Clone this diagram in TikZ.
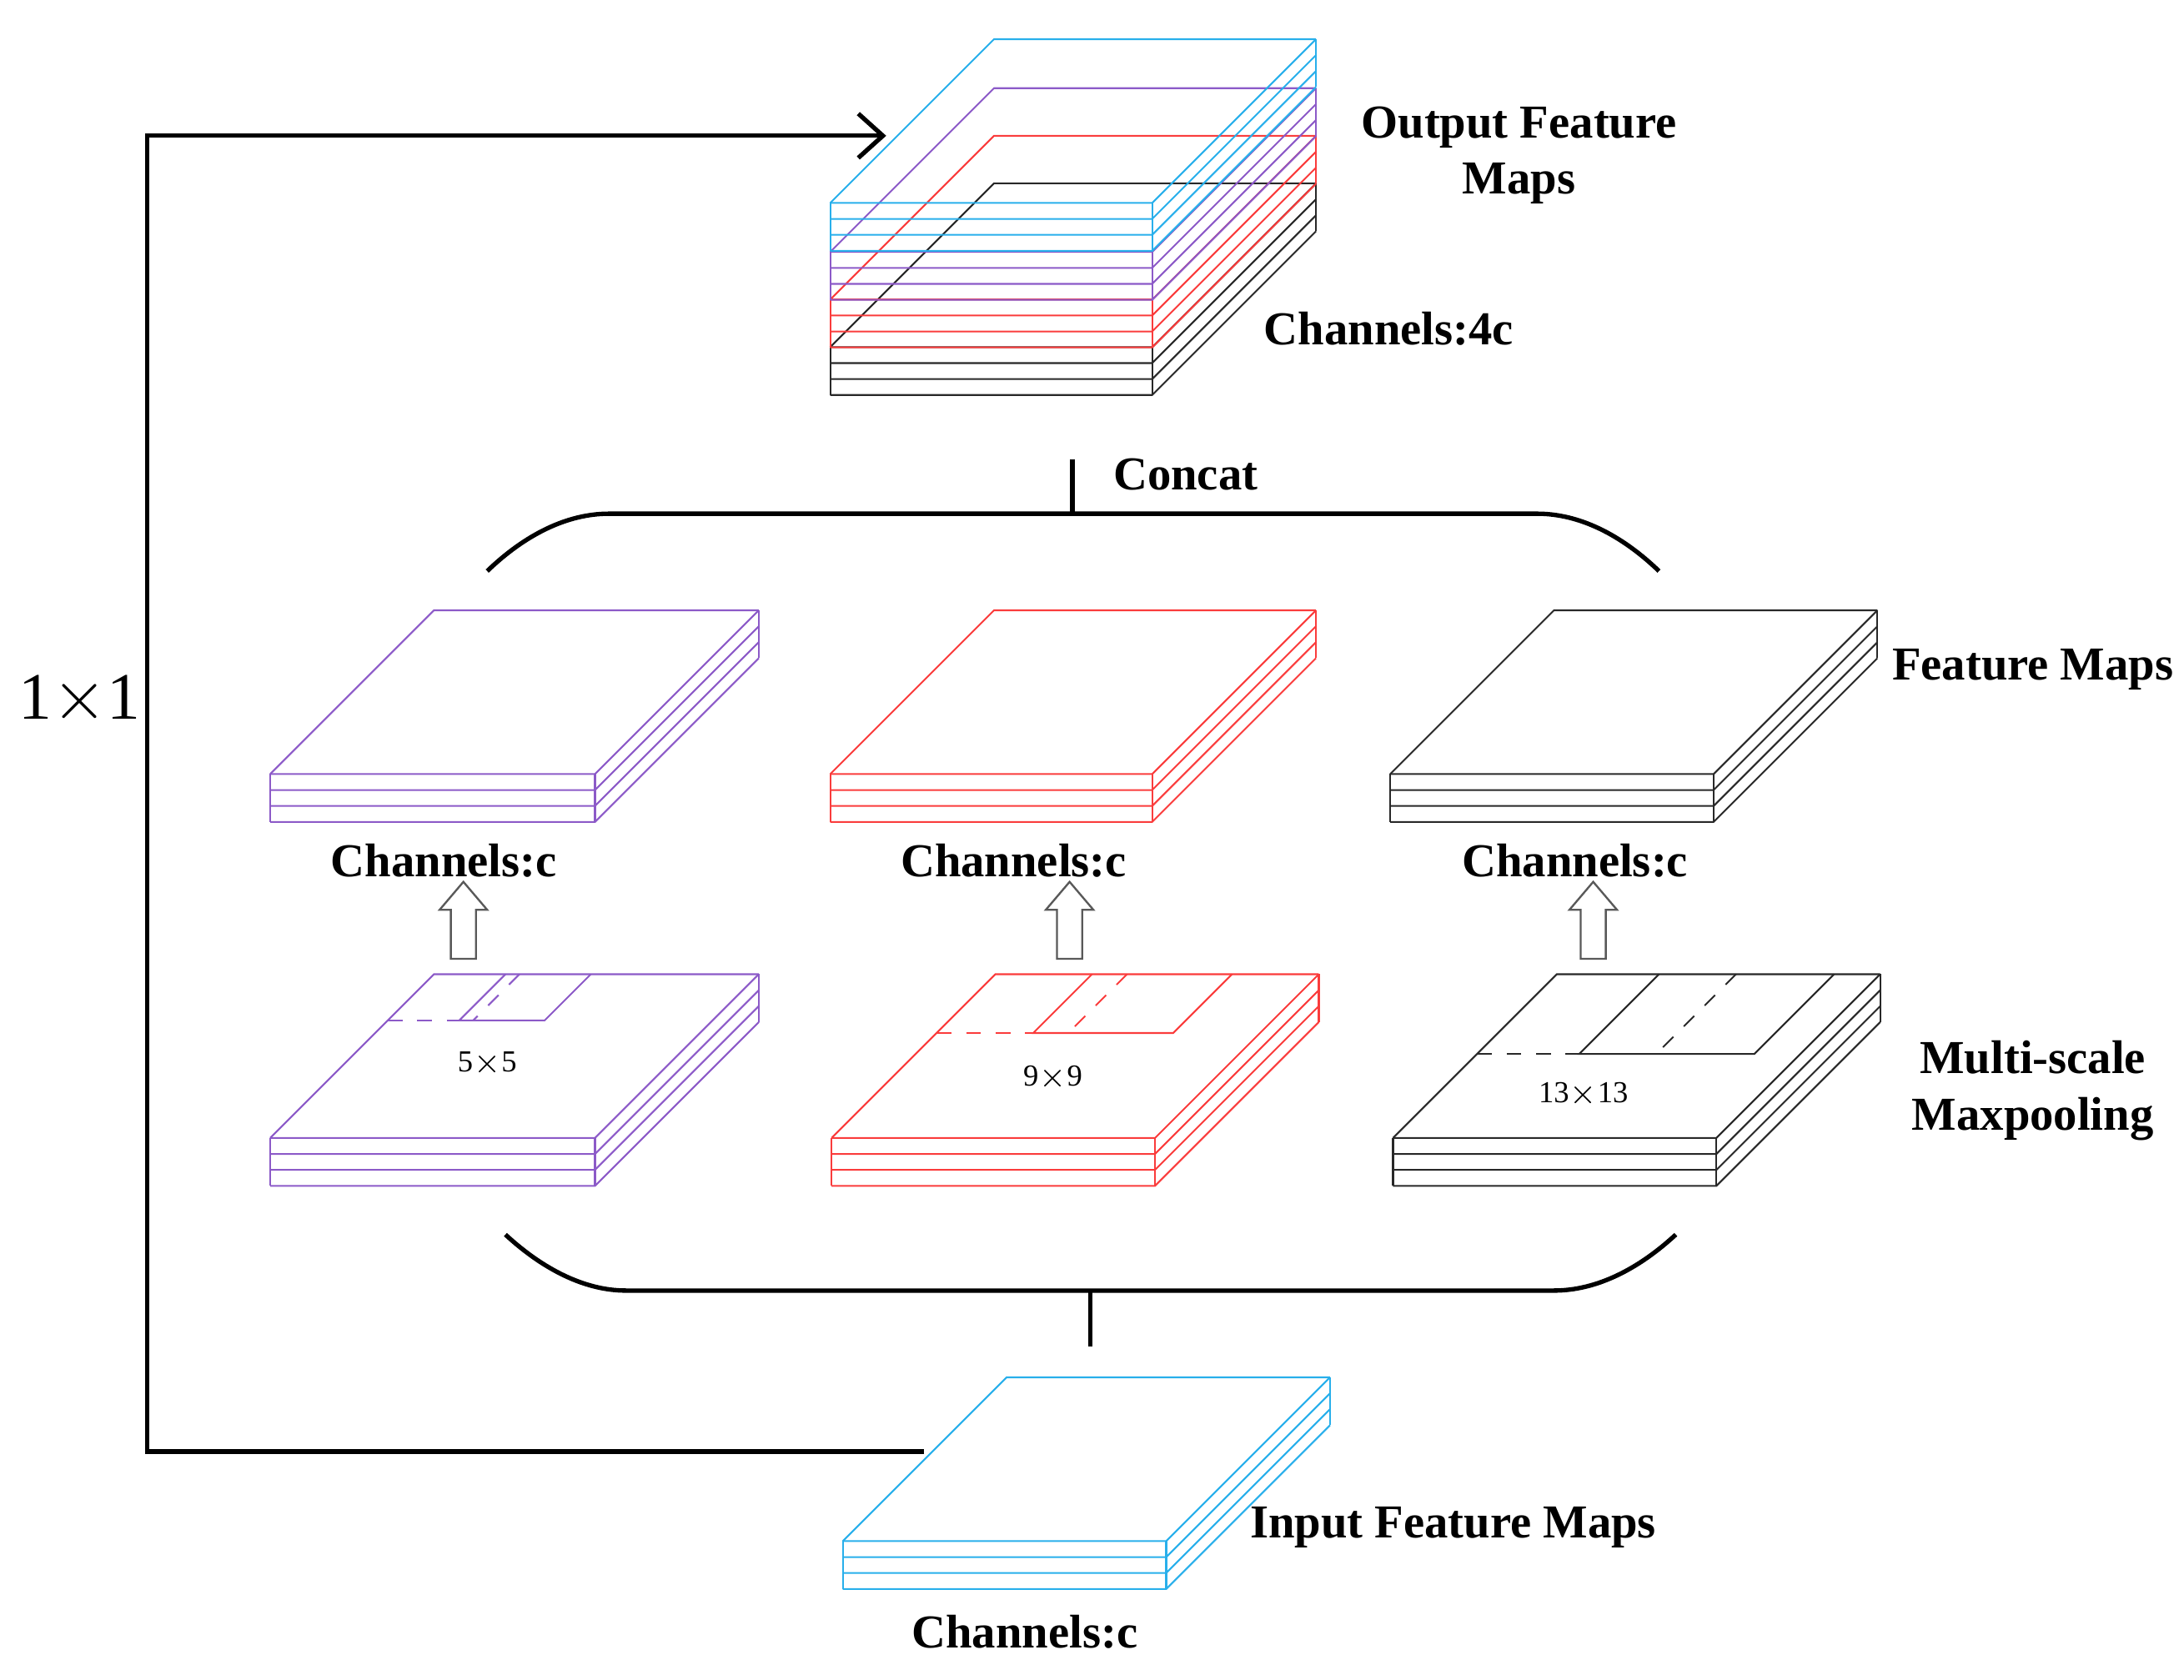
\documentclass[tikz,border=0pt]{standalone}
\usepackage{fontspec}
\setmainfont{Liberation Serif}
\usetikzlibrary{arrows.meta}
\begin{document}
\definecolor{cy}{RGB}{40,175,235}
\definecolor{pu}{RGB}{140,90,200}
\definecolor{rd}{RGB}{250,60,60}
\definecolor{bk}{RGB}{40,40,40}
\newcommand{\slab}[5]{% color, fx, fy, w, n
  \foreach \i in {0,...,#5}{
    \draw[#1] ({#2},{#3+\i*11.4}) -- ({#2+#4},{#3+\i*11.4}) -- ({#2+#4+117},{#3+\i*11.4-117});
  }
  \draw[#1] ({#2},{#3}) -- ({#2},{#3+#5*11.4});
  \draw[#1] ({#2+#4},{#3}) -- ({#2+#4},{#3+#5*11.4});
  \draw[#1] ({#2+#4+117},{#3-117}) -- ({#2+#4+117},{#3+#5*11.4-117});
  \draw[#1] ({#2},{#3}) -- ({#2+117},{#3-117}) -- ({#2+#4+117},{#3-117});
}
% window: color, back-left x, back y, a, b, dashx, depth
\newcommand{\win}[7]{%
  \draw[#1] (#4,#3) -- ({#4-#7},{#3+#7}) -- ({#5-#7},{#3+#7}) -- (#5,#3);
  \draw[#1,dashed] ({#2-#7},{#3+#7}) -- ({#4-#7},{#3+#7});
  \draw[#1,dashed] (#6,#3) -- ({#6-#7},{#3+#7});
}
\newcommand{\harrow}[1]{%
  \draw[gray!70!black,line width=0.4pt,fill=white] ({#1-9},685) -- ({#1-9},650) -- ({#1-17},650) -- (#1,630) -- ({#1+17},650) -- ({#1+9},650) -- ({#1+9},685) -- cycle;
}
\begin{tikzpicture}[x=0.1mm,y=-0.1mm,line width=0.35pt,
  lab/.style={font=\fontsize{9.6}{11.5}\selectfont\bfseries,align=center},
  sm/.style={font=\fontsize{6.2}{7}\selectfont},
  thick line/.style={line width=0.9pt,black}]
\useasboundingbox (0,0) rectangle (1560,1200);
% output stack
\slab{bk}{593}{248}{230}{3}
\slab{rd}{593}{214}{230}{3}
\slab{pu}{593}{180}{230}{3}
\slab{cy}{593}{145}{230}{3}
\coordinate (outin) at (633,97);
\node[lab] (out) at (1085,111) {Output Feature\\Maps};
\node[lab] (c4) at (992,235) {Channels:4c};
% concat brace
\coordinate (ct) at (766,328);
\coordinate (cb) at (766,367);
\draw[thick line] (ct) -- (cb);
\draw[thick line] (348,408) .. controls (375,382) and (405,367) .. (435,367) -- (1098,367) .. controls (1128,367) and (1158,382) .. (1185,408);
\node[lab,anchor=west] (concat) at (783,339) {Concat};
% feature maps
\slab{pu}{193}{553}{232}{3}
\slab{rd}{593}{553}{230}{3}
\slab{bk}{993}{553}{231}{3}
\node[lab] (fm) at (1452,478) {Feature Maps};
\node[lab] (ch1) at (317,615) {Channels:c};
\node[lab] (ch2) at (724,615) {Channels:c};
\node[lab] (ch3) at (1125,615) {Channels:c};
\harrow{331}
\harrow{764}
\harrow{1138}
% maxpool
\slab{pu}{193}{813}{232}{3}
\slab{rd}{594}{813}{231}{3}
\slab{bk}{995}{813}{231}{3}
\win{pu}{310}{696}{361}{422}{371}{33}
\win{rd}{711}{696}{780}{880}{805}{42}
\win{bk}{1112}{696}{1185}{1310}{1240}{57}
\node[sm] (k5) at (348,760) {5$\times$5};
\node[sm] (k9) at (752,770) {9$\times$9};
\node[sm] (k13) at (1131,782) {13$\times$13};
\node[lab] (mp) at (1452,779) {Multi-scale\\Maxpooling};
% bottom brace
\draw[thick line] (361,882) .. controls (388,907) and (418,922) .. (447,922) -- (1110,922) .. controls (1140,922) and (1170,907) .. (1197,882);
\coordinate (bt) at (779,922);
\coordinate (bb) at (779,962);
\draw[thick line] (bt) -- (bb);
% input
\slab{cy}{602}{1101}{231}{3}
\coordinate (inout) at (660,1037);
\node[lab] (inp) at (1038,1091) {Input Feature Maps};
\node[lab] (chin) at (732,1166) {Channels:c};
% skip
\draw[thick line,-{Straight Barb[length=5pt,width=9pt]}] (inout) -- (105,1037) -- (105,97) -- (outin);
\node[font=\fontsize{13.5}{15}\selectfont] (one) at (57,500) {1$\times$1};
\end{tikzpicture}
\end{document}
